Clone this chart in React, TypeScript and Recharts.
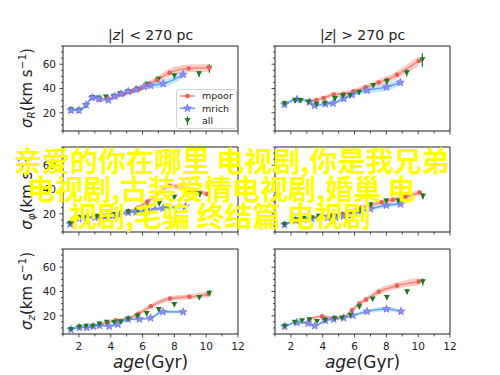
import { ComposedChart, Line, Area, Scatter, ErrorBar, XAxis, YAxis, ReferenceArea, Legend } from "recharts";

type Pt = [number, number, number]; // [age, sigma, error]

// sigma_R, |z| < 270 pc
const rLowPoor: Pt[] = [[3.3, 30.5, 1.5], [3.8, 31.5, 1.5], [4.3, 33.5, 1.5], [4.8, 35.5, 1.5], [5.3, 37.5, 1.5], [5.8, 39.5, 1.8], [6.3, 43, 2.2], [6.9, 47, 2.8], [7.7, 53, 3.2], [8.9, 56.5, 3.2], [10.2, 57, 3.2]];
const rLowRich: Pt[] = [[1.5, 22, 1.2], [2.0, 22, 1.2], [2.45, 26.5, 1.5], [2.85, 32.5, 1.5], [3.25, 31.5, 1.5], [3.85, 30.5, 1.5], [4.25, 33.5, 1.2], [4.65, 35.5, 1.2], [5.1, 37.5, 1.2], [5.6, 39, 1.5], [6.1, 41.5, 2], [6.5, 42.5, 2.5], [7.3, 44, 3], [8.55, 51.5, 3]];
const rLowAll: Pt[] = [[1.5, 22.4, 1.5], [2.0, 22, 1.5], [2.45, 26, 2], [2.85, 32.5, 2], [3.25, 32, 2], [3.7, 33, 2], [4.2, 33.5, 1.5], [4.6, 35.5, 1.5], [5.1, 37.5, 1.5], [5.65, 39.5, 1.5], [6.3, 43.5, 2], [7.0, 47.5, 2.3], [8.0, 50.5, 2.3], [9.55, 52, 2.5], [10.2, 56.5, 3.5]];

// sigma_R, |z| > 270 pc
const rHighPoor: Pt[] = [[3.16, 29.5, 1.5], [3.6, 30.5, 1.5], [4.06, 32.2, 1.8], [4.69, 35, 2], [5.32, 35.5, 2], [5.95, 37.6, 2], [6.68, 40.9, 2.2], [7.52, 45, 2.5], [8.04, 47.2, 2.8], [8.67, 51.3, 3.2], [10.04, 62.7, 4]];
const rHighRich: Pt[] = [[1.6, 26.8, 1.5], [2.38, 31, 1.5], [3.16, 29, 1.5], [3.49, 26, 1.5], [4.16, 27.3, 1.5], [4.65, 27.9, 1.5], [5.32, 31.7, 1.8], [5.84, 35, 2], [6.79, 38.5, 2.5], [8.0, 41.2, 3], [8.88, 45, 3]];
const rHighAll: Pt[] = [[1.6, 27.3, 2], [2.26, 30, 2], [2.61, 30, 2], [3.1, 28.7, 1.8], [3.62, 27, 1.8], [4.14, 27.8, 1.8], [4.77, 31.7, 2], [5.26, 33.9, 2], [5.72, 34.1, 2], [6.28, 36.8, 2], [7.18, 42.3, 2], [8.03, 45.6, 2.5], [9.28, 52.9, 3], [10.26, 63.5, 5.5]];

// sigma_phi, |z| < 270 pc
const pLowPoor: Pt[] = [[3.3, 17, 1.2], [4.0, 18.5, 1.2], [4.6, 19.5, 1.2], [5.1, 21.3, 1.3], [5.7, 25, 1.5], [6.3, 30, 1.8], [7.0, 37, 2], [7.7, 43, 2.2], [8.9, 40, 2.2], [10.05, 36.3, 2.2]];
const pLowRich: Pt[] = [[1.45, 11.5, 1], [2.0, 16, 1], [2.5, 16.5, 1], [3.0, 17, 1], [3.5, 17.5, 1], [4.1, 18.5, 1], [4.6, 19.5, 1], [5.1, 21, 1], [5.6, 21.5, 1.2], [6.2, 22.5, 1.5], [6.8, 23.5, 1.5], [7.3, 24.5, 1.8], [8.7, 26, 1.8]];
const pLowAll: Pt[] = [[1.45, 12, 1.5], [2.0, 16.7, 1.5], [2.5, 16.7, 1.5], [3.1, 17.8, 1.5], [3.7, 17.8, 1.5], [4.3, 19.4, 1.5], [5.1, 21.6, 1.5], [5.7, 23, 1.8], [6.4, 26, 2], [7.05, 28.6, 2], [8.0, 33.5, 2.2], [9.6, 36.3, 2.5]];

// sigma_phi, |z| > 270 pc
const pHighPoor: Pt[] = [[3.3, 17, 1.2], [4.0, 18, 1.2], [4.6, 19, 1.2], [5.2, 20, 1.3], [5.8, 22, 1.5], [6.4, 25, 1.8], [7.0, 27, 2], [7.7, 29.5, 2], [8.4, 31.5, 2.2], [9.2, 34, 2.2], [10.1, 37.5, 2.5]];
const pHighRich: Pt[] = [[1.6, 11, 1], [2.3, 14.5, 1], [2.8, 15.5, 1], [3.3, 16, 1], [3.8, 16.5, 1], [4.3, 17, 1], [4.8, 17, 1], [5.3, 18, 1.2], [5.8, 19.5, 1.3], [6.4, 22, 1.5], [7.0, 24, 1.5], [8.0, 27, 1.8], [8.9, 28, 1.8]];
const pHighAll: Pt[] = [[1.6, 11, 1.5], [2.3, 15, 1.5], [2.8, 16, 1.5], [3.3, 16.5, 1.5], [3.75, 17.8, 1.5], [4.45, 17.2, 1.5], [5.0, 17.5, 1.5], [5.7, 18, 1.5], [6.35, 22.7, 1.8], [7.0, 27.3, 2], [8.0, 30.5, 2], [8.75, 30.5, 2], [10.3, 34.5, 2.5]];

// sigma_z, |z| < 270 pc
const zLowPoor: Pt[] = [[3.29, 12.8, 1.2], [3.8, 14.5, 1.2], [4.33, 16.2, 1.2], [5.1, 17.8, 1.4], [5.74, 21.7, 1.8], [6.52, 27.8, 2], [7.73, 34.2, 2], [8.94, 35.6, 2.2], [10.14, 37.8, 2.5]];
const zLowRich: Pt[] = [[1.5, 8.7, 0.8], [2.03, 10.3, 0.8], [2.49, 10.3, 0.8], [2.9, 11.2, 0.8], [3.29, 12, 0.8], [3.9, 11.4, 0.8], [4.45, 13, 0.9], [5.1, 17.2, 1], [5.8, 17.3, 1], [6.5, 18.2, 1.2], [7.28, 23.3, 1.2], [8.55, 23.2, 1.2]];
const zLowAll: Pt[] = [[1.5, 8.7, 1], [2.03, 10.6, 1], [2.45, 11.2, 1], [2.87, 11.4, 1], [3.29, 13.1, 1], [3.75, 14.5, 1], [4.21, 14.5, 1], [4.63, 15, 1], [5.09, 17.2, 1.2], [5.67, 19.7, 1.3], [6.26, 21.7, 1.5], [7.02, 25, 1.5], [8.0, 29.3, 1.8], [9.57, 35, 1.8], [10.2, 38.5, 2.5]];

// sigma_z, |z| > 270 pc
const zHighPoor: Pt[] = [[3.16, 17.2, 1.2], [3.96, 19.5, 1.2], [4.75, 18.3, 1.2], [5.32, 18.9, 1.3], [5.84, 24.5, 1.6], [6.3, 30, 2], [6.72, 33.3, 2.2], [7.52, 39.8, 2.5], [8.67, 44.8, 2.8], [10.04, 48.1, 3]];
const zHighRich: Pt[] = [[1.61, 11.2, 1], [2.38, 14.5, 1], [3.08, 13.9, 1], [3.5, 11.7, 1], [4.16, 16.2, 1], [4.69, 17.2, 1], [5.32, 18.3, 1], [5.89, 20.3, 1.2], [6.79, 23.6, 1.5], [8.0, 25.6, 1.8], [8.92, 23.6, 1.8]];
const zHighAll: Pt[] = [[1.61, 11.2, 1], [2.24, 14.5, 1], [2.7, 15.8, 1], [3.16, 16.7, 1], [3.64, 15.3, 1], [4.16, 16.2, 1], [4.75, 17.5, 1], [5.21, 18.1, 1], [5.74, 20.3, 1.2], [6.3, 27.3, 1.5], [7.14, 33.7, 1.5], [8.03, 35, 1.8], [9.3, 39.8, 2], [10.29, 48, 3]];

const seriesNames = ["mpoor", "mrich", "all"];
const xTicks = [1, 2, 3, 4, 5, 6, 7, 8, 9, 10, 11, 12];
const xTickLabels = [2, 4, 6, 8, 10, 12];
const yTicks = [5, 10, 15, 20, 25, 30, 35, 40, 45, 50, 55, 60, 65, 70, 75];
const yTickLabels = [20, 40, 60];
const titles = ["|z| < 270 pc", "|z| > 270 pc"];

const FONT = "DejaVu Sans";
const AX = "#222";
const POOR_LINE = "#f38a7e";
const POOR_DOT = "#eb5f55";
const POOR_BAND = "#f28b82";
const RICH_LINE = "#6a9ef2";
const RICH_STAR = "#8c8cf2";
const RICH_BAND = "#7fd0f5";
const GREEN = "#1d7a22";

const YW = 40, XH = 22, MT = 2, MR = 12, PW = 175, PH = 85;

const rows = (pts: Pt[]) => pts.map(([x, y, e]) => ({ x, y, e, band: [y - e, y + e] }));

const starPoints = (cx: number, cy: number, ro: number, ri: number) =>
  Array.from({ length: 10 }, (_, i) => {
    const a = -Math.PI / 2 + (i * Math.PI) / 5;
    const r = i % 2 === 0 ? ro : ri;
    return `${cx + r * Math.cos(a)},${cy + r * Math.sin(a)}`;
  }).join(" ");

const RedDot = (p: any) => <circle key={`r${p.index}`} cx={p.cx} cy={p.cy} r={2.3} fill={POOR_DOT} />;
const Star = (p: any) => (
  <polygon key={`s${p.index}`} points={starPoints(p.cx, p.cy, 4.2, 1.8)} fill={RICH_STAR} stroke="#6c6ce6" strokeWidth={0.6} />
);
const TriDown = (p: any) => (
  <polygon points={`${p.cx - 3},${p.cy - 2.6} ${p.cx + 3},${p.cy - 2.6} ${p.cx},${p.cy + 2.8}`} fill={GREEN} />
);

const XTick = ({ x, y, payload, show }: any) => {
  const major = xTickLabels.includes(payload.value);
  return (
    <g>
      <line x1={x} x2={x} y1={y} y2={y + (major ? 3.5 : 2.5)} stroke={AX} strokeWidth={0.8} />
      {show && major && (
        <text x={x} y={y + 16} textAnchor="middle" fontSize={10.5} fill={AX} fontFamily={FONT}>{payload.value}</text>
      )}
    </g>
  );
};

const YTick = ({ x, y, payload, show }: any) => {
  const major = yTickLabels.includes(payload.value);
  return (
    <g>
      <line x1={x - (major ? 3.5 : 2)} x2={x} y1={y} y2={y} stroke={AX} strokeWidth={0.8} />
      {show && major && (
        <text x={x - 7} y={y} dy="0.36em" textAnchor="end" fontSize={10.5} fill={AX} fontFamily={FONT}>{payload.value}</text>
      )}
    </g>
  );
};

const LegendBox = () => (
  <div style={{ width: 61, height: 40, boxSizing: "border-box", border: "1px solid #d4d4d4", borderRadius: 3, background: "rgba(255,255,255,0.85)" }}>
    <svg width={59} height={38} style={{ display: "block" }}>
      {seriesNames.map((name, i) => {
        const cy = 6 + i * 12.3;
        return (
          <g key={name}>
            {i === 0 && <line x1={3} x2={18} y1={cy} y2={cy} stroke={POOR_LINE} strokeWidth={1.5} />}
            {i === 0 && <circle cx={10.5} cy={cy} r={2.3} fill={POOR_DOT} />}
            {i === 1 && <line x1={3} x2={18} y1={cy} y2={cy} stroke={RICH_LINE} strokeWidth={1.5} />}
            {i === 1 && <polygon points={starPoints(10.5, cy, 4.2, 1.8)} fill={RICH_STAR} stroke="#6c6ce6" strokeWidth={0.6} />}
            {i === 2 && <line x1={10.5} x2={10.5} y1={cy - 4.5} y2={cy + 4.5} stroke={GREEN} strokeWidth={1.2} />}
            {i === 2 && <polygon points={`7.5,${cy - 2.6} 13.5,${cy - 2.6} 10.5,${cy + 2.8}`} fill={GREEN} />}
            <text x={25} y={cy} dy="0.35em" fontSize={9.5} fontFamily={FONT} fill={AX}>{name}</text>
          </g>
        );
      })}
    </svg>
  </div>
);

function Panel({ left, top, poor, rich, all, xLabels, yLabels, legend }: any) {
  return (
    <div style={{ position: "absolute", left: left - YW, top: top - MT }}>
      <ComposedChart width={YW + PW + MR} height={MT + PH + XH} margin={{ top: MT, right: MR, left: 0, bottom: 0 }}>
        <XAxis dataKey="x" type="number" domain={[1, 12]} ticks={xTicks} interval={0} tickSize={0} tickMargin={0}
          axisLine={false} height={XH} allowDataOverflow tick={(p: any) => <XTick {...p} show={xLabels} />} />
        <YAxis type="number" domain={[5, 75]} ticks={yTicks} interval={0} tickSize={0} tickMargin={0}
          axisLine={false} width={YW} allowDataOverflow tick={(p: any) => <YTick {...p} show={yLabels} />} />
        <ReferenceArea x1={1} x2={12} y1={5} y2={75} fill="none" stroke={AX} strokeWidth={1} ifOverflow="visible" />
        <Area data={rows(poor)} dataKey="band" type="monotone" stroke="none" fill={POOR_BAND} fillOpacity={0.45} isAnimationActive={false} />
        <Line data={rows(poor)} dataKey="y" type="monotone" stroke={POOR_LINE} strokeWidth={1.5} dot={RedDot} isAnimationActive={false} />
        <Area data={rows(rich)} dataKey="band" type="monotone" stroke="none" fill={RICH_BAND} fillOpacity={0.5} isAnimationActive={false} />
        <Line data={rows(rich)} dataKey="y" type="monotone" stroke={RICH_LINE} strokeWidth={1.5} dot={Star} isAnimationActive={false} />
        <Scatter data={rows(all)} dataKey="y" shape={TriDown} isAnimationActive={false}>
          <ErrorBar dataKey="e" direction="y" width={0} stroke={GREEN} strokeWidth={1.2} />
        </Scatter>
        {legend && (
          <Legend layout="vertical" align="center" verticalAlign="middle" content={LegendBox}
            wrapperStyle={{ position: "absolute", left: YW + 113, top: MT + 43, width: 61, height: 40 }} />
        )}
      </ComposedChart>
    </div>
  );
}

const SigmaLabel = ({ y, sub }: { y: number; sub: string }) => (
  <text x={32} y={y} transform={`rotate(-90 32 ${y})`} textAnchor="middle" fontSize={15} fontFamily={FONT} fill={AX}>
    <tspan fontStyle="italic">σ</tspan>
    <tspan fontStyle="italic" fontSize={10.5} dy={3}>{sub}</tspan>
    <tspan dy={-3}>(km s</tspan>
    <tspan fontSize={10.5} dy={-6}>−1</tspan>
    <tspan dy={6}>)</tspan>
  </text>
);

export default function App() {
  return (
    <div style={{ position: "absolute", left: 0, top: 0, width: 500, height: 375, background: "#fff", overflow: "hidden" }}>
      <Panel left={63} top={46} poor={rLowPoor} rich={rLowRich} all={rLowAll} xLabels={false} yLabels legend />
      <Panel left={275} top={46} poor={rHighPoor} rich={rHighRich} all={rHighAll} xLabels={false} yLabels={false} />
      <Panel left={63} top={147} poor={pLowPoor} rich={pLowRich} all={pLowAll} xLabels={false} yLabels />
      <Panel left={275} top={147} poor={pHighPoor} rich={pHighRich} all={pHighAll} xLabels={false} yLabels={false} />
      <Panel left={63} top={249} poor={zLowPoor} rich={zLowRich} all={zLowAll} xLabels yLabels />
      <Panel left={275} top={249} poor={zHighPoor} rich={zHighRich} all={zHighAll} xLabels yLabels={false} />
      <svg width={500} height={375} style={{ position: "absolute", left: 0, top: 0, pointerEvents: "none" }}>
        {titles.map((t, i) => (
          <text key={t} x={i === 0 ? 150.5 : 362.5} y={40} textAnchor="middle" fontSize={14} fontFamily={FONT} fill={AX}>
            {t.slice(0, 1)}<tspan fontStyle="italic">{t.slice(1, 2)}</tspan>{t.slice(2)}
          </text>
        ))}
        <SigmaLabel y={88} sub="R" />
        <SigmaLabel y={190} sub="φ" />
        <SigmaLabel y={291} sub="z" />
        {[150.5, 362.5].map((cx) => (
          <text key={cx} x={cx} y={368} textAnchor="middle" fontSize={17} fontFamily={FONT} fill={AX}>
            <tspan fontStyle="italic">age</tspan>(Gyr)
          </text>
        ))}
        <g fontFamily="Noto Sans CJK SC" fontWeight={700} fontSize={28} fill="#ffff00">
          <text x={14} y={172}>亲爱的你在哪里 电视剧,你是我兄弟</text>
          <text x={27} y={199.5}>电视剧,古装爱情电视剧,婚巢 电</text>
          <text x={69} y={227}>视剧,毛骗 终结篇 电视剧</text>
        </g>
      </svg>
    </div>
  );
}
